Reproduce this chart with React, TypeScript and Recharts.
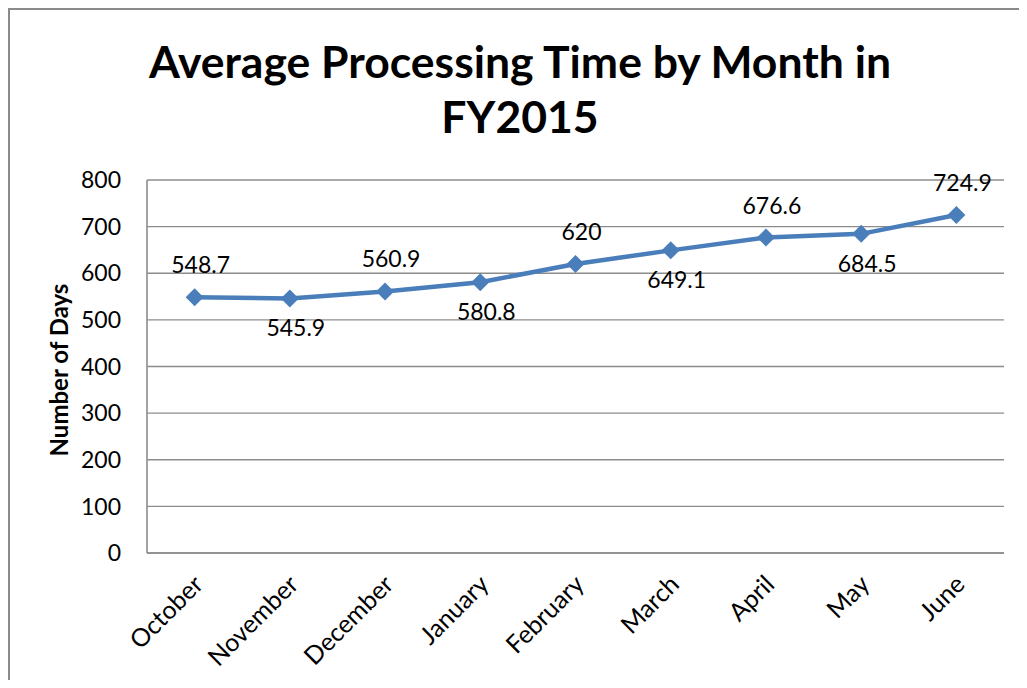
import React from 'react';
import { LineChart, Line, XAxis, YAxis, CartesianGrid, LabelList } from 'recharts';

const months = ['October', 'November', 'December', 'January', 'February', 'March', 'April', 'May', 'June'];
const avgDays = [548.7, 545.9, 560.9, 580.8, 620, 649.1, 676.6, 684.5, 724.9];
const yTicks = [0, 100, 200, 300, 400, 500, 600, 700, 800];

const data = months.map((month, i) => ({ month, days: avgDays[i] }));

const FONT = 'Lato, "Open Sans", sans-serif';
const LINE_BLUE = '#4a7ebb';
const GRID_GREY = '#8c8c8c';

// half a category slot on each side so points sit in the middle of their slot
const PLOT_WIDTH = 857;
const SLOT_PAD = PLOT_WIDTH / months.length / 2;

function Diamond(props: any) {
  const { cx, cy } = props;
  if (cx == null || cy == null) return null;
  const r = 9;
  return (
    <polygon
      points={`${cx},${cy - r} ${cx + r},${cy} ${cx},${cy + r} ${cx - r},${cy}`}
      fill={LINE_BLUE}
    />
  );
}

function MonthTick(props: any) {
  const { x, y, payload } = props;
  return (
    <text
      transform={`translate(${x + 10},${y + 25}) rotate(-45)`}
      textAnchor="end"
      fontSize={25}
      fontFamily={FONT}
      fill="#000"
    >
      {payload.value}
    </text>
  );
}

function ValueLabel(props: any) {
  const { x, y, value, index } = props;
  // labels alternate above / below the points, like the original
  const above = (index ?? 0) % 2 === 0;
  return (
    <text
      x={x + 6}
      y={above ? y - 24 : y + 38}
      textAnchor="middle"
      fontSize={23}
      fontFamily={FONT}
      fill="#000"
    >
      {value}
    </text>
  );
}

export default function App() {
  return (
    <div
      style={{
        position: 'relative',
        width: 1019,
        height: 672,
        boxSizing: 'border-box',
        borderTop: '2px solid #8a8a8a',
        borderLeft: '2px solid #8a8a8a',
        background: '#fff',
        overflow: 'hidden',
      }}
    >
      <LineChart
        width={1017}
        height={670}
        data={data}
        margin={{ top: 170, right: 23, left: 0, bottom: 27 }}
      >
        <CartesianGrid vertical={false} stroke={GRID_GREY} strokeWidth={1.4} />
        <XAxis
          dataKey="month"
          interval={0}
          height={100}
          padding={{ left: SLOT_PAD, right: SLOT_PAD }}
          axisLine={{ stroke: GRID_GREY, strokeWidth: 1.6 }}
          tickLine={false}
          tick={<MonthTick />}
        />
        <YAxis
          width={137}
          domain={[0, 800]}
          ticks={yTicks}
          interval={0}
          axisLine={{ stroke: GRID_GREY, strokeWidth: 1.6 }}
          tickLine={false}
          tickSize={0}
          tickMargin={26}
          tick={{ fontSize: 23, fontFamily: FONT, fill: '#000' }}
        />
        <Line
          type="linear"
          dataKey="days"
          stroke={LINE_BLUE}
          strokeWidth={4.5}
          dot={<Diamond />}
          activeDot={false}
          isAnimationActive={false}
        >
          <LabelList dataKey="days" content={<ValueLabel />} />
        </Line>
      </LineChart>
      <svg
        width={1017}
        height={670}
        style={{ position: 'absolute', left: 0, top: 0, pointerEvents: 'none' }}
      >
        <text x={510} y={68} textAnchor="middle" fontSize={44.5} fontWeight="bold" fontFamily={FONT} fill="#000">
          Average Processing Time by Month in
        </text>
        <text x={510} y={123} textAnchor="middle" fontSize={44.5} fontWeight="bold" fontFamily={FONT} fill="#000">
          FY2015
        </text>
        <text
          transform="translate(58,360) rotate(-90)"
          textAnchor="middle"
          fontSize={24}
          fontWeight="bold"
          fontFamily={FONT}
          fill="#000"
        >
          Number of Days
        </text>
      </svg>
    </div>
  );
}
